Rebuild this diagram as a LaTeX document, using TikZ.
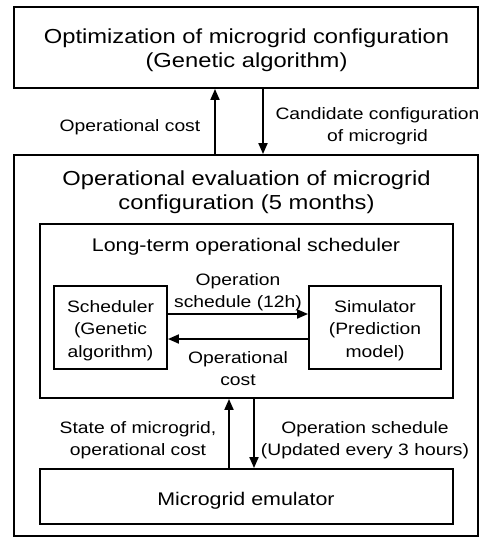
\documentclass[tikz,border=0pt]{standalone}
\usepackage{fontspec}
\setmainfont{Liberation Sans}[FakeStretch=1.17]
\usetikzlibrary{arrows.meta}

\begin{document}
\begin{tikzpicture}[x=1pt,y=-1pt,
  box/.style={draw, line width=1.9pt, inner sep=0pt},
  arr/.style={line width=1.9pt, -{Triangle[length=11pt,width=9pt]}},
  titletxt/.style={font=\fontsize{20.3pt}{24pt}\selectfont, align=center, inner sep=0pt},
  midtxt/.style={font=\fontsize{18.3pt}{22pt}\selectfont, align=center, inner sep=0pt},
  lbltxt/.style={font=\fontsize{16.5pt}{22.5pt}\selectfont, align=center, inner sep=0pt}]
\useasboundingbox (0,0) rectangle (487,538);

% frames
\node[box, minimum width=464pt, minimum height=81pt]  (top)   at (246,47.5) {};
\node[box, minimum width=464pt, minimum height=381pt] (outer) at (246,345.5) {};
\node[box, minimum width=413pt, minimum height=174pt] (inner) at (246.5,311) {};
\node[box, minimum width=113pt, minimum height=83pt]  (sched) at (110.5,327.5) {};
\node[box, minimum width=132pt, minimum height=83pt]  (sim)   at (375,327.5) {};
\node[box, minimum width=413pt, minimum height=55pt]  (emu)   at (246.5,496.5) {};

% texts
\node[titletxt] (toptxt) at (246.5,50.7) {Optimization of microgrid configuration\\(Genetic algorithm)};
\node[titletxt] (outtxt) at (246.5,192.7) {Operational evaluation of microgrid\\configuration (5 months)};
\node[midtxt] (intxt) at (246,247.2) {Long-term operational scheduler};
\node[lbltxt] (schtxt) at (110.5,330.7) {Scheduler\\(Genetic\\algorithm)};
\node[lbltxt] (simtxt) at (375,330.7) {Simulator\\(Prediction\\model)};
\node[midtxt] (emutxt) at (246,501.2) {Microgrid emulator};

% connector labels
\node[lbltxt] (l1) at (130,127.7) {Operational cost};
\node[lbltxt] (l2) at (377.5,126.2) {Candidate configuration\\of microgrid};
\node[lbltxt] (l3) at (238,292.2) {Operation\\schedule (12h)};
\node[lbltxt] (l4) at (238,368.5) {Operational\\cost};
\node[lbltxt] (l5) at (138,440.2) {State of microgrid,\\operational cost};
\node[lbltxt] (l6) at (365,440.2) {Operation schedule\\(Updated every 3 hours)};

% connectors
\draw[arr] ([xshift=-31pt]outer.north) -- ([xshift=-31pt]top.south);
\draw[arr] ([xshift=17pt]top.south) -- ([xshift=17pt]outer.north);
\draw[arr] ([yshift=13.5pt]sched.east) -- ([yshift=13.5pt]sim.west);
\draw[arr] ([yshift=-11.5pt]sim.west) -- ([yshift=-11.5pt]sched.east);
\draw[arr] ([xshift=-17.5pt]emu.north) -- ([xshift=-17.5pt]inner.south);
\draw[arr] ([xshift=7.5pt]inner.south) -- ([xshift=7.5pt]emu.north);
\end{tikzpicture}
\end{document}
